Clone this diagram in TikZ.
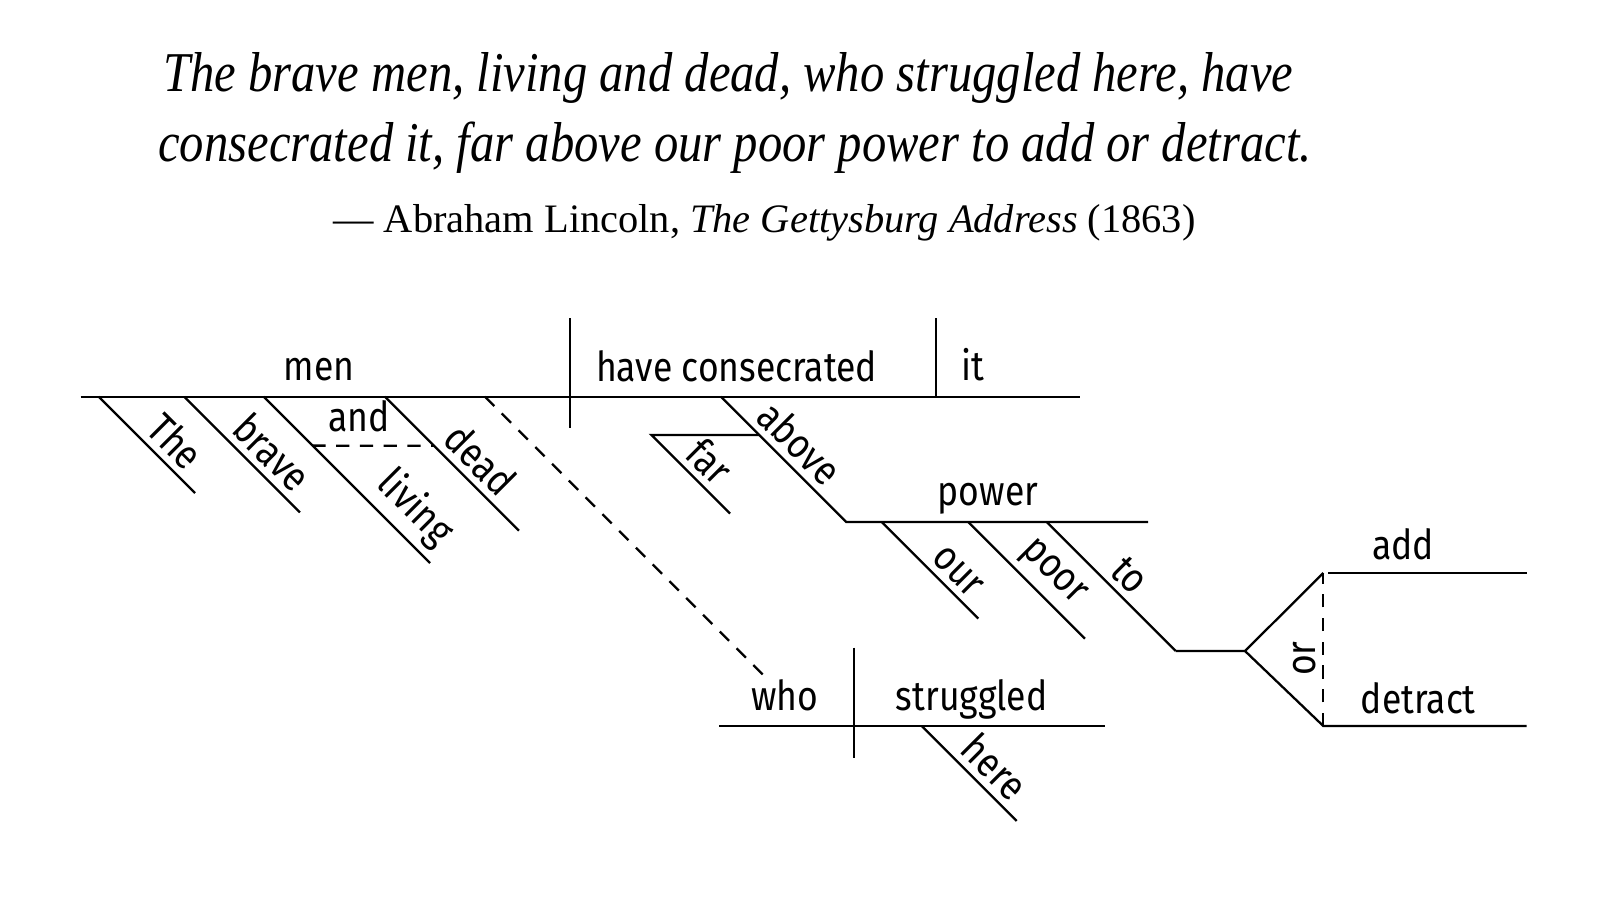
\documentclass[tikz,border=0pt]{standalone}
\usepackage{fontspec}
\setmainfont{Liberation Serif}
\newfontfamily\quotefont[FakeStretch=0.865]{Liberation Serif}
\newfontfamily\diafont[FakeStretch=0.86]{Fira Sans}
\usetikzlibrary{calc}
\tikzset{
  dline/.style={line width=1.3pt,draw=black},
  dlink/.style={dline,dash pattern=on 7.5pt off 6pt},
  dword/.style={font=\diafont\fontsize{23.5}{28}\selectfont,inner sep=0pt,anchor=base},
  dslant/.style={font=\diafont\fontsize{23.5}{28}\selectfont,sloped,above,inner sep=3.5pt},
  qline/.style={font=\quotefont\itshape\fontsize{32}{38}\selectfont,anchor=base west,inner sep=0pt},
  qsrc/.style={font=\fontsize{23}{28}\selectfont,anchor=base west,inner sep=0pt}
}

\begin{document}
\begin{tikzpicture}[x=0.02cm,y=-0.02cm]
  \useasboundingbox (0,0) rectangle (1622,908);

  % quotation
  \node[qline] (q1) at (163,92) {The brave men, living and dead, who struggled here, have};
  \node[qline] (q2) at (158,162) {consecrated it, far above our poor power to add or detract.};
  \node[qsrc] (q3) at (333,233) {— Abraham Lincoln, \textit{The Gettysburg Address} (1863)};

  % main clause
  \coordinate (base-l) at (80.7,396.7);
  \coordinate (base-r) at (1080,396.7);
  \coordinate (sv-t) at (570,318.3);
  \coordinate (sv-b) at (570,428.3);
  \coordinate (vo-t) at (936,318.3);
  \coordinate (vo-b) at (936,396.7);
  \draw[dline] (base-l) -- (base-r);
  \draw[dline] (sv-t) -- (sv-b);
  \draw[dline] (vo-t) -- (vo-b);
  \node[dword] (w-men) at (319,381) {men};
  \node[dword] (w-have) at (736.6,381.7) {have consecrated};
  \node[dword] (w-it) at (972.9,381) {it};

  % modifiers of men
  \coordinate (the-a) at (98.6,396.7);   \coordinate (the-b) at (195,493.1);
  \coordinate (brave-a) at (184.3,396.7); \coordinate (brave-b) at (300,512.4);
  \coordinate (liv-a) at (263.6,396.7);   \coordinate (liv-b) at (430,563.1);
  \coordinate (dead-a) at (385,396.7);    \coordinate (dead-b) at (519,530.7);
  \draw[dline] (the-a) -- node[dslant,pos=.63] (w-the) {The} (the-b);
  \draw[dline] (brave-a) -- node[dslant,pos=.62] (w-brave) {brave} (brave-b);
  \draw[dline] (liv-a) -- node[dslant,pos=.79] (w-living) {living} (liv-b);
  \draw[dline] (dead-a) -- node[dslant,pos=.59] (w-dead) {dead} (dead-b);
  \coordinate (and-l) at ($(liv-a)!.294!(liv-b)$);
  \coordinate (and-r) at ($(dead-a)!.366!(dead-b)$);
  \draw[dlink] (and-l) -- (and-r);
  \node[dword] (w-and) at (359.3,431.7) {and};

  % far above our poor power to add or detract
  \coordinate (above-a) at (721,396.7);
  \coordinate (power-l) at (846.3,522);
  \coordinate (power-r) at (1148,522);
  \draw[dline] (above-a) -- node[dslant,pos=.5] (w-above) {above} (power-l) -- (power-r);
  \coordinate (far-r) at ($(above-a)!.305!(power-l)$);
  \coordinate (far-l) at (651.4,435);
  \coordinate (far-b) at (730,513.6);
  \draw[dline] (far-r) -- (far-l) -- node[dslant,pos=.54] (w-far) {far} (far-b);
  \node[dword] (w-power) at (988,505) {power};
  \coordinate (our-a) at (881.7,522);   \coordinate (our-b) at (978.3,618.6);
  \coordinate (poor-a) at (968.3,522);  \coordinate (poor-b) at (1085,638.7);
  \coordinate (to-a) at (1046.7,522);   \coordinate (to-b) at (1175.7,651);
  \draw[dline] (our-a) -- node[dslant,pos=.65] (w-our) {our} (our-b);
  \draw[dline] (poor-a) -- node[dslant,pos=.58] (w-poor) {poor} (poor-b);
  \draw[dline] (to-a) -- node[dslant,pos=.53] (w-to) {to} (to-b);
  \coordinate (fork) at (1245,651);
  \coordinate (add-l) at (1323.3,573);  \coordinate (add-r) at (1526.7,573);
  \coordinate (det-l) at (1323.3,726);  \coordinate (det-r) at (1526.7,726);
  \draw[dline] (to-b) -- (fork) -- (add-l);
  \draw[dline] (fork) -- (det-l) -- (det-r);
  \draw[dline] ($(add-l)+(5,0)$) -- (add-r);
  \draw[dlink] (det-l) -- node[dslant,pos=.44] (w-or) {or} (add-l);
  \node[dword] (w-add) at (1403.3,559.3) {add};
  \node[dword] (w-detract) at (1418.3,713.3) {detract};

  % who struggled here
  \coordinate (rel-a) at (485,396.7);
  \coordinate (rel-b) at (765,676.7);
  \draw[dlink] (rel-a) -- (rel-b);
  \coordinate (who-l) at (719.3,726);   \coordinate (who-r) at (1105,726);
  \coordinate (ws-t) at (853.7,647.7);  \coordinate (ws-b) at (853.7,758.3);
  \draw[dline] (who-l) -- (who-r);
  \draw[dline] (ws-t) -- (ws-b);
  \node[dword] (w-who) at (785,710) {who};
  \node[dword] (w-strug) at (971.7,710) {struggled};
  \coordinate (here-a) at (921.7,726);  \coordinate (here-b) at (1016.7,821);
  \draw[dline] (here-a) -- node[dslant,pos=.6] (w-here) {here} (here-b);
\end{tikzpicture}
\end{document}
